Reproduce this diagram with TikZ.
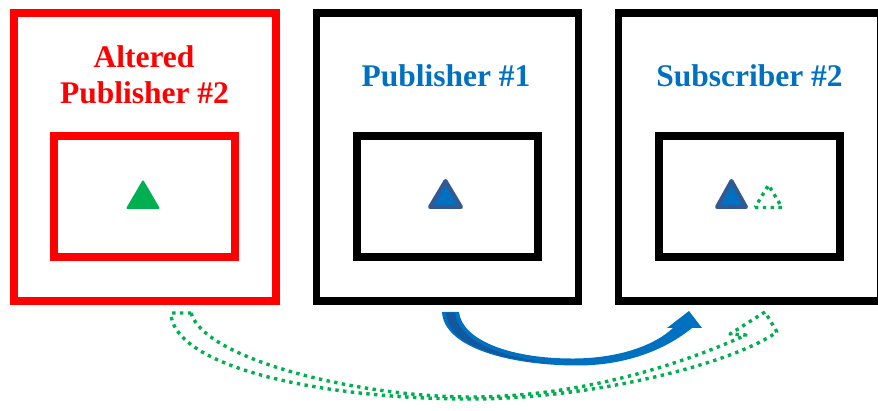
\documentclass[tikz,border=0pt]{standalone}
\usepackage{fontspec}
\setmainfont{Liberation Serif}
\definecolor{pptred}{RGB}{255,0,0}
\definecolor{pptblue}{RGB}{0,112,192}
\definecolor{pptgreen}{RGB}{0,176,80}
\definecolor{tridark}{RGB}{52,88,146}
\definecolor{arrowshade}{RGB}{18,88,158}
\begin{document}
\begin{tikzpicture}[x=1pt,y=-1pt,
  outerbox/.style={draw, line width=7.7pt, minimum width=262pt, minimum height=288pt, inner sep=0pt, outer sep=0pt},
  innerbox/.style={draw, line width=7.8pt, minimum width=181pt, minimum height=121pt, inner sep=0pt, outer sep=0pt},
  title/.style={font=\fontsize{31.5}{36}\selectfont\bfseries, anchor=base, inner sep=0pt},
  token/.style={line width=4pt, line join=round, draw=tridark, fill=pptblue},
  greendots/.style={draw=pptgreen, line width=3.4pt, dash pattern=on 3.4pt off 4.4pt, line join=round}]
\useasboundingbox (0,0) rectangle (878,411);
\clip (0,0) rectangle (878,411);

% frames
\node[outerbox, draw=pptred] (altouter) at (145,156.7) {};
\node[innerbox, draw=pptred] (altinner) at (144.6,196.6) {};
\node[outerbox] (pubouter) at (447.5,156.7) {};
\node[innerbox] (pubinner) at (447.5,196.6) {};
\node[outerbox] (subouter) at (749.4,156.7) {};
\node[innerbox] (subinner) at (749.4,196.6) {};

% titles
\node[title, text=pptred] (alttitlea) at (144,68) {Altered};
\node[title, text=pptred] (alttitleb) at (144.5,104) {Publisher \#2};
\node[title, text=pptblue] (pubtitle) at (446,87) {Publisher \#1};
\node[title, text=pptblue] (subtitle) at (749.5,87) {Subscriber \#2};

% tokens
\filldraw[pptgreen, line width=2pt, line join=round] (127.5,208) -- (158.5,208) -- (143,181.5) -- cycle;
\filldraw[token] (430,207) -- (461,207) -- (445.5,181) -- cycle;
\filldraw[token] (717,207) -- (746,207) -- (731.5,181) -- cycle;
\draw[greendots] (755,207.5) -- (782,207.5) -- (768.5,185) -- cycle;

% solid curved arrow
\fill[pptblue] (442,312) .. controls (444,348) and (510,365) .. (575,365.5)
  .. controls (625,366) and (665,350) .. (692,328)
  -- (702,328) -- (689,311) -- (667,328) -- (673,328)
  .. controls (655,345) and (620,358) .. (575,358.5)
  .. controls (510,359) and (462,340) .. (459,312) -- cycle;
\fill[arrowshade] (446,313) .. controls (448,345) and (500,360) .. (550,363)
  .. controls (505,358) and (458,342) .. (455,313) -- cycle;

% dotted outlined curved arrow
\draw[greendots] (191,313) .. controls (205,360) and (360,397) .. (470,397)
  .. controls (580,397) and (680,365) .. (746,335)
  -- (730,334) -- (765,312) -- (777,332)
  .. controls (730,365) and (590,399) .. (470,399)
  .. controls (330,399) and (180,370) .. (171,316) -- (172,313) -- cycle;
\end{tikzpicture}
\end{document}
